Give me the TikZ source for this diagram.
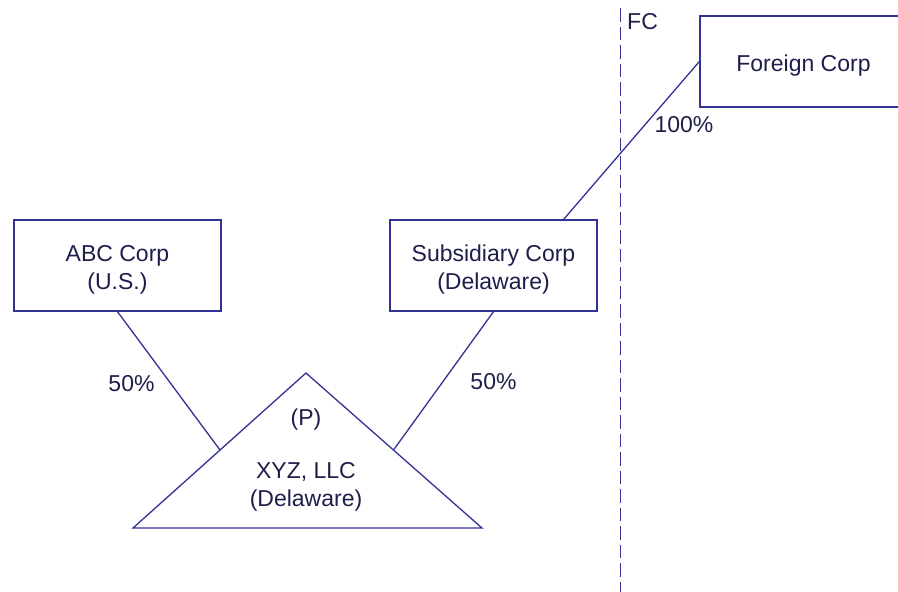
\documentclass[tikz,border=0pt]{standalone}
\usepackage{fontspec}
\setmainfont{Liberation Sans}
\usetikzlibrary{calc}
\definecolor{linecol}{RGB}{50,50,150}
\definecolor{txtcol}{RGB}{30,30,75}
% invisible strut that sets the first line of a box a little lower
\newcommand\boxstrut{\rule{0pt}{24pt}}
\begin{document}
\begin{tikzpicture}[x=1pt,y=-1pt,
  every node/.style={text=txtcol,font=\fontsize{23}{28}\selectfont,inner sep=0pt},
  entity/.style={draw=linecol,line width=1.3pt,fill=white,minimum width=207pt,minimum height=91pt,align=center},
  link/.style={draw=linecol,line width=1.3pt},
  pct/.style={anchor=base}]
\useasboundingbox (0,0) rectangle (898,592);
\begin{scope}
\clip (0,0) rectangle (898,592);
% jurisdiction border
\coordinate (fctop) at (620.7,8);
\coordinate (fcbot) at (620.7,592);
\draw[linecol,line width=1.3pt,dash pattern=on 13.5pt off 5pt] (fctop) -- (fcbot);
\node[anchor=base west] (fc) at (627,29) {FC};

% entities
\node[entity] (abc) at (117.5,265.5) {\boxstrut ABC Corp\\(U.S.)};
\node[entity] (sub) at (493.5,265.5) {\boxstrut Subsidiary Corp\\(Delaware)};
\node[entity] (foreign) at (803.5,61.5) {\boxstrut Foreign Corp};

% partnership triangle
\coordinate (apex) at (306,373);
\coordinate (bl) at (133,528);
\coordinate (br) at (482,528);
\draw[link,line join=miter] (apex) -- (br) -- (bl) -- cycle;
\node[anchor=base] (p) at (306,425) {(P)};
\node[anchor=base,align=center] (xyz) at (306,506) {XYZ, LLC\\(Delaware)};
\coordinate (lmid) at ($(apex)!0.497!(bl)$);
\coordinate (rmid) at ($(apex)!0.497!(br)$);

% ownership links
\draw[link] (abc.south) -- (lmid);
\draw[link] (sub.south) -- (rmid);
\coordinate (subtop) at ([xshift=-34pt]sub.north east);
\draw[link] (subtop) -- (foreign.west);

% percentages
\node[pct] (p1) at (131.5,391) {50\%};
\node[pct] (p2) at (493.5,389) {50\%};
\node[pct] (p3) at (684,132) {100\%};
\end{scope}
\end{tikzpicture}
\end{document}
